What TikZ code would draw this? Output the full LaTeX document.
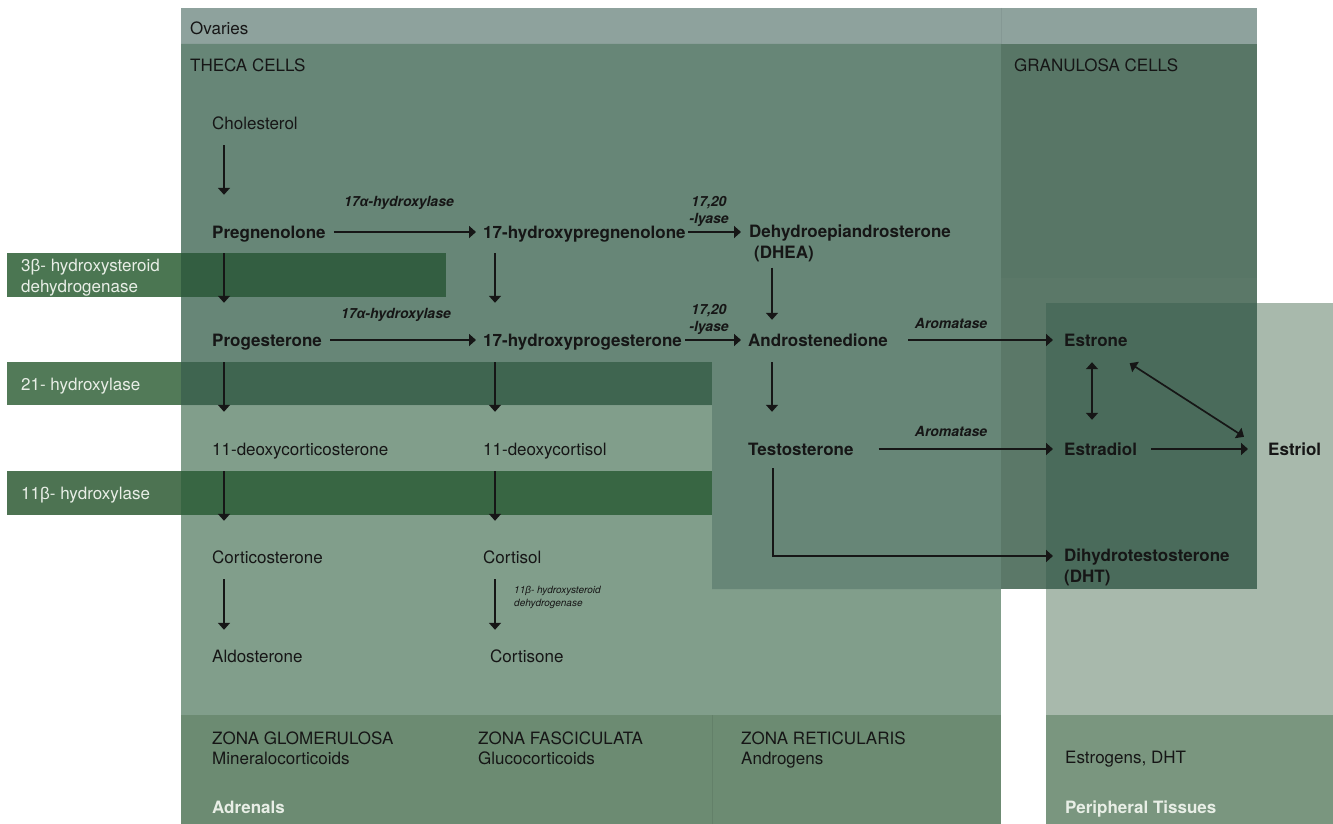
\documentclass[tikz,border=0pt]{standalone}
\usepackage{fontspec}
\setmainfont{TeX Gyre Heros}
\newfontfamily\grkfont{Liberation Sans}
\usetikzlibrary{positioning,arrows.meta}

\definecolor{ink}{HTML}{161616}
\definecolor{pale}{HTML}{E8EEE6}
\definecolor{ovaryhead}{HTML}{8EA29D}
\definecolor{theca}{HTML}{678677}
\definecolor{granulosa}{HTML}{587666}
\definecolor{granulosalow}{HTML}{5B7868}
\definecolor{adrenal}{HTML}{819E8B}
\definecolor{adrenalband}{HTML}{6C8B72}
\definecolor{periph}{HTML}{A8B9AC}
\definecolor{periphband}{HTML}{7A967F}
\definecolor{overlap}{HTML}{4A6B5B}
\definecolor{bandthreeout}{HTML}{4B7652}
\definecolor{bandthreein}{HTML}{335E41}
\definecolor{bandtwoout}{HTML}{527A58}
\definecolor{bandtwoin}{HTML}{3F6550}
\definecolor{bandoneout}{HTML}{4D7352}
\definecolor{bandonein}{HTML}{386643}

\newcommand{\grk}[1]{{\grkfont #1}}

\begin{document}
\begin{tikzpicture}[x=1pt, y=-1pt,
    compound/.style={anchor=base west, inner sep=0pt, text=ink,
        text height=12pt, text depth=0pt,
        font=\fontsize{17}{20}\selectfont\bfseries},
    minorcmp/.style={compound, font=\fontsize{17}{20}\selectfont},
    twoline/.style={anchor=base west, inner sep=0pt, text=ink, align=left,
        font=\fontsize{17}{21}\selectfont\bfseries},
    region/.style={anchor=base west, inner sep=0pt, text=ink, align=left,
        font=\fontsize{17}{20}\selectfont},
    tissue/.style={anchor=base west, inner sep=0pt, text=pale,
        font=\fontsize{17}{20}\selectfont\bfseries},
    enzyme/.style={anchor=base, inner sep=0pt, text=ink, align=center,
        font=\fontsize{14}{17}\selectfont\bfseries\itshape},
    bandlabel/.style={anchor=base west, inner sep=0pt, text=pale, align=left,
        font=\fontsize{17}{21}\selectfont},
    arrow/.style={-{Triangle[width=12pt,length=7pt]}, line width=1.7pt, draw=ink},
    twoway/.style={arrow, {Triangle[width=12pt,length=7pt]}-{Triangle[width=12pt,length=7pt]}}
]
\useasboundingbox (0,0) rectangle (1333,824);

% Tissue regions
\fill[adrenal] (181,405) rectangle (1001,715);
\fill[adrenalband] (181,715) rectangle (1001,824);
\draw[adrenalband!92!black, line width=0.6pt] (712,715) -- (712,824);
\fill[ovaryhead] (181,8) rectangle (1257,44);
\draw[ovaryhead!94!black, line width=0.6pt] (1001,8) -- (1001,44);
\fill[theca] (181,44) -- (1001,44) -- (1001,589) -- (712,589) -- (712,405) -- (181,405) -- cycle;
\fill[granulosa] (1001,44) rectangle (1257,278);
\fill[granulosalow] (1001,278) rectangle (1257,589);
\fill[periph] (1046,303) rectangle (1333,715);
\fill[periphband] (1046,715) rectangle (1333,824);
\fill[overlap] (1046,303) rectangle (1257,589);

% Enzyme bands
\fill[bandthreeout] (7,253) rectangle (181,297);
\fill[bandthreein] (181,253) rectangle (446,297);
\fill[bandtwoout] (7,362) rectangle (181,405);
\fill[bandtwoin] (181,362) rectangle (712,405);
\fill[bandoneout] (7,471) rectangle (181,515);
\fill[bandonein] (181,471) rectangle (712,515);

% Region labels
\node[region] (ovaries) at (190,35) {Ovaries};
\node[region] (theca) at (190,72) {THECA CELLS};
\node[region] (granu) at (1014,72) {GRANULOSA CELLS};
\node[bandlabel] (hsd) at (21,292) {3\grk{β}- hydroxysteroid\\dehydrogenase};
\node[bandlabel] (hyd21) at (21,390) {21- hydroxylase};
\node[bandlabel] (hyd11) at (21,499) {11\grk{β}- hydroxylase};

% Compounds
\node[minorcmp] (chol) at (212,130) {Cholesterol};
\node[compound] (preg) at (212,238) {Pregnenolone};
\node[compound] (ohpreg) at (483,238) {17-hydroxypregnenolone};
\node[twoline] (dhea) at (749,258) {Dehydroepiandrosterone\\\hspace*{5pt}(DHEA)};
\node[compound] (prog) at (212,346) {Progesterone};
\node[compound] (ohprog) at (483,346) {17-hydroxyprogesterone};
\node[compound] (andro) at (748,346) {Androstenedione};
\node[compound] (estrone) at (1064,346) {Estrone};
\node[minorcmp] (doc) at (212,455) {11-deoxycorticosterone};
\node[minorcmp] (dcortisol) at (483,455) {11-deoxycortisol};
\node[compound] (testo) at (748,455) {Testosterone};
\node[compound] (estradiol) at (1064,455) {Estradiol};
\node[compound] (estriol) at (1268,455) {Estriol};
\node[minorcmp] (cortico) at (212,563) {Corticosterone};
\node[minorcmp] (cortisol) at (483,563) {Cortisol};
\node[twoline] (dht) at (1064,582) {Dihydrotestosterone\\(DHT)};
\node[minorcmp] (aldo) at (212,662) {Aldosterone};
\node[minorcmp] (cortisone) at (490,662) {Cortisone};

% Enzymes
\node[enzyme] (hyda) at (399,206) {17\grk{α}-hydroxylase};
\node[enzyme] (hydb) at (396,318) {17\grk{α}-hydroxylase};
\node[enzyme] (lyasea) at (709,223) {17,20\\-lyase};
\node[enzyme] (lyaseb) at (709,331) {17,20\\-lyase};
\node[enzyme] (aroma) at (951,328) {Aromatase};
\node[enzyme] (aromb) at (951,436) {Aromatase};
\node[anchor=base west, inner sep=0pt, text=ink, align=left,
    font=\fontsize{10}{13}\selectfont\itshape] (hsdb) at (514,606)
    {11\grk{β}- hydroxysteroid\\dehydrogenase};

% Zones
\node[region] (glom) at (212,764) {ZONA GLOMERULOSA\\Mineralocorticoids};
\node[region] (fasc) at (478,764) {ZONA FASCICULATA\\Glucocorticoids};
\node[region] (retic) at (741,764) {ZONA RETICULARIS\\Androgens};
\node[region] (periphout) at (1065,763) {Estrogens, DHT};
\node[tissue] (adrenals) at (212,813) {Adrenals};
\node[tissue] (tissues) at (1065,813) {Peripheral Tissues};

% Vertical steps
\draw[arrow, shorten <=15pt, shorten >=31pt] ([xshift=12pt]chol.south west) -- ([xshift=12pt]preg.north west);
\draw[arrow, shorten <=15pt, shorten >=31pt] ([xshift=12pt]preg.south west) -- ([xshift=12pt]prog.north west);
\draw[arrow, shorten <=16pt, shorten >=31pt] ([xshift=12pt]prog.south west) -- ([xshift=12pt]doc.north west);
\draw[arrow, shorten <=16pt, shorten >=30pt] ([xshift=12pt]doc.south west) -- ([xshift=12pt]cortico.north west);
\draw[arrow, shorten <=16pt, shorten >=20pt] ([xshift=12pt]cortico.south west) -- ([xshift=12pt]aldo.north west);
\draw[arrow, shorten <=15pt, shorten >=31pt] ([xshift=12pt]ohpreg.south west) -- ([xshift=12pt]ohprog.north west);
\draw[arrow, shorten <=16pt, shorten >=31pt] ([xshift=12pt]ohprog.south west) -- ([xshift=12pt]dcortisol.north west);
\draw[arrow, shorten <=16pt, shorten >=30pt] ([xshift=12pt]dcortisol.south west) -- ([xshift=12pt]cortisol.north west);
\draw[arrow, shorten <=16pt, shorten >=20pt] ([xshift=12pt]cortisol.south west) -- ([xshift=12pt]cortisol.south west |- cortisone.north);
\draw[arrow, shorten <=6pt, shorten >=14pt] ([xshift=24pt]andro.north west |- dhea.south) -- ([xshift=24pt]andro.north west);
\draw[arrow, shorten <=16pt, shorten >=31pt] ([xshift=24pt]andro.south west) -- ([xshift=24pt]testo.north west);

% Horizontal steps
\draw[arrow, shorten <=8pt, shorten >=7pt] (preg.east) -- (ohpreg.west);
\draw[arrow, shorten <=8pt, shorten >=7pt] (prog.east) -- (ohprog.west);
\draw[arrow, shorten <=2pt, shorten >=8pt] (ohpreg.east) -- (ohpreg.east -| dhea.west);
\draw[arrow, shorten <=3pt, shorten >=7pt] (ohprog.east) -- (andro.west);
\draw[arrow, shorten <=20pt, shorten >=11pt] (andro.east) -- (estrone.west);
\draw[arrow, shorten <=25pt, shorten >=11pt] (testo.east) -- (estradiol.west);
\draw[arrow, shorten <=14pt, shorten >=20pt] (estradiol.east) -- (estriol.west);
\draw[arrow, shorten <=13pt, shorten >=11pt] ([xshift=25pt]testo.south west) |- ([yshift=26pt]dht.base west);

% Estrogen interconversions
\draw[twoway, shorten <=16pt, shorten >=23pt] ([xshift=28pt]estrone.south west) -- ([xshift=28pt]estradiol.north west);
\draw[twoway] ([shift={(2,17)}]estrone.south east) -- ([shift={(-24,-6)}]estriol.north west);

\end{tikzpicture}
\end{document}
